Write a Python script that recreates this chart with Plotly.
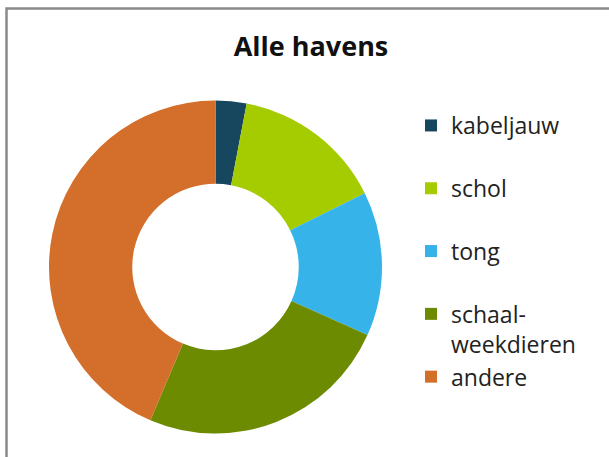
import plotly.graph_objects as go

labels = ["kabeljauw", "schol", "tong", "schaal-<br>weekdieren", "andere"]
legend_labels = ["kabeljauw<br> ", "schol<br> ", "tong<br> ", "schaal-<br>weekdieren", "andere"]
values = [3.0, 14.7, 14.0, 24.7, 43.6]
colors = ["#17475E", "#A5CC00", "#36B3E8", "#6C8B00", "#D36F2A"]

W, H = 609, 457
cx, cy, r = 215.5, 267, 166.5

fig = go.Figure(go.Pie(
    labels=legend_labels,
    values=values,
    hole=0.5,
    sort=False,
    direction="clockwise",
    rotation=0,
    textinfo="none",
    marker=dict(colors=colors, line=dict(width=0)),
    domain=dict(x=[(cx - r) / W, (cx + r) / W], y=[(H - cy - r) / H, (H - cy + r) / H]),
))

fig.update_layout(
    width=W, height=H,
    margin=dict(l=0, r=0, t=0, b=0),
    paper_bgcolor="white",
    font=dict(family="Open Sans", color="#222222"),
    title=dict(text="<b>Alle havens</b>", x=311 / W, xanchor="center",
               y=1 - 47 / H, yanchor="middle",
               font=dict(size=27, color="#111111", family="Open Sans")),
    showlegend=True,
    legend=dict(x=411 / W, xanchor="left", y=1 - 104 / H, yanchor="top",
                valign="top", font=dict(size=23, color="#222222"),
                bgcolor="rgba(0,0,0,0)", itemclick=False),
    shapes=[dict(type="rect", xref="paper", yref="paper",
                 x0=6.5 / W, x1=1.2, y0=-0.2, y1=1 - 8.5 / H,
                 line=dict(color="#8A8A8A", width=2.5), fillcolor="rgba(0,0,0,0)")],
)

fig.write_html("out.html", config={"displayModeBar": False},
               post_script="document.body.style.margin='0';")
